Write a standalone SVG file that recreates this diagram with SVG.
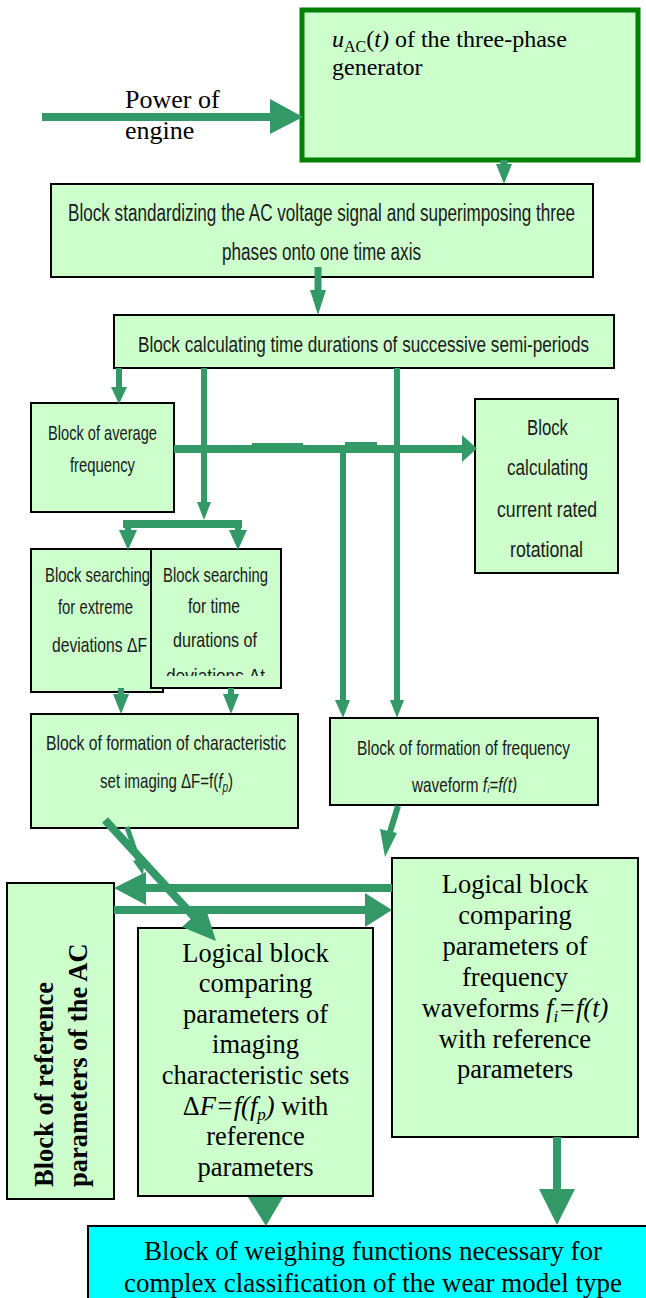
<svg xmlns="http://www.w3.org/2000/svg" width="646" height="1298" viewBox="0 0 646 1298">
<style>
.box{fill:#ccffcc;stroke:#000;stroke-width:2}
.cal{font-family:"Liberation Sans","DejaVu Sans",sans-serif;fill:#1a1a1a}
.tnr{font-family:"Liberation Serif","Times New Roman",serif;fill:#000}
.mid{text-anchor:middle}
.ln{stroke:#339966;fill:none}
.hd{fill:#339966}
</style>
<defs>
<clipPath id="clip7"><rect x="150" y="540" width="135" height="136"/></clipPath>
<clipPath id="clip9"><rect x="330" y="718" width="270" height="75"/></clipPath>
</defs>

<g id="node-generator">
<rect x="302" y="10" width="336" height="150" fill="#ccffcc" stroke="#008000" stroke-width="5"/>
<text class="tnr" x="332" y="47" font-size="24"><tspan font-style="italic">u</tspan><tspan font-size="16" dy="5">AC</tspan><tspan dy="-5">(</tspan><tspan font-style="italic">t)</tspan> of the three-phase</text>
<text class="tnr" x="332" y="75" font-size="24">generator</text>
</g>

<g id="label-power">
<text class="tnr" x="125" y="108" font-size="26">Power of</text>
<text class="tnr" x="125" y="139" font-size="26">engine</text>
</g>

<g id="node-standardizing">
<rect class="box" x="51" y="184" width="542" height="93"/>
<text class="cal" x="68" y="221" font-size="23" textLength="507" lengthAdjust="spacingAndGlyphs">Block standardizing the AC voltage signal and superimposing three</text>
<text class="cal" x="222" y="260" font-size="23" textLength="199" lengthAdjust="spacingAndGlyphs">phases onto one time axis</text>
</g>

<g id="node-semiperiods">
<rect class="box" x="114" y="315" width="500" height="53"/>
<text class="cal" x="138" y="352" font-size="22" textLength="451" lengthAdjust="spacingAndGlyphs">Block calculating time durations of successive semi-periods</text>
</g>

<g id="node-average">
<rect class="box" x="31" y="403" width="143" height="109"/>
<text class="cal" x="48" y="440" font-size="21" textLength="109" lengthAdjust="spacingAndGlyphs">Block of average</text>
<text class="cal" x="70" y="472" font-size="21" textLength="65" lengthAdjust="spacingAndGlyphs">frequency</text>
</g>

<g id="node-rotational">
<rect class="box" x="475" y="399" width="143" height="174"/>
<text class="cal" x="527" y="435" font-size="22" textLength="41" lengthAdjust="spacingAndGlyphs">Block</text>
<text class="cal" x="507" y="475" font-size="22" textLength="81" lengthAdjust="spacingAndGlyphs">calculating</text>
<text class="cal" x="497" y="517" font-size="22" textLength="100" lengthAdjust="spacingAndGlyphs">current rated</text>
<text class="cal" x="510" y="557" font-size="22" textLength="73" lengthAdjust="spacingAndGlyphs">rotational</text>
</g>

<g id="node-extreme">
<rect class="box" x="31" y="549" width="132" height="143"/>
<text class="cal" x="45" y="582" font-size="21" textLength="105" lengthAdjust="spacingAndGlyphs">Block searching</text>
<text class="cal" x="58" y="614" font-size="21" textLength="75" lengthAdjust="spacingAndGlyphs">for extreme</text>
<text class="cal" x="52" y="652" font-size="21" textLength="95" lengthAdjust="spacingAndGlyphs">deviations ΔF</text>
</g>

<g id="node-durations">
<rect class="box" x="151" y="549" width="130" height="139"/>
<text class="cal" x="163" y="582" font-size="21" textLength="105" lengthAdjust="spacingAndGlyphs">Block searching</text>
<text class="cal" x="188" y="613" font-size="21" textLength="52" lengthAdjust="spacingAndGlyphs">for time</text>
<text class="cal" x="173" y="647" font-size="21" textLength="84" lengthAdjust="spacingAndGlyphs">durations of</text>
<text class="cal" x="166" y="683" font-size="21" textLength="99" lengthAdjust="spacingAndGlyphs" clip-path="url(#clip7)">deviations Δt</text>
</g>

<g id="node-charset">
<rect class="box" x="31" y="714" width="267" height="114"/>
<text class="cal" x="46" y="750" font-size="21" textLength="240" lengthAdjust="spacingAndGlyphs">Block of formation of characteristic</text>
<text class="cal" x="100" y="788" font-size="21" textLength="133" lengthAdjust="spacingAndGlyphs">set imaging ΔF=f(<tspan font-style="italic">f</tspan><tspan font-size="14" dy="4" font-style="italic">p</tspan><tspan dy="-4">)</tspan></text>
</g>

<g id="node-waveform">
<rect class="box" x="330" y="718" width="268" height="87"/>
<text class="cal" x="357" y="755" font-size="21" textLength="213" lengthAdjust="spacingAndGlyphs">Block of formation of frequency</text>
<text class="cal" x="412" y="792" font-size="21" textLength="105" lengthAdjust="spacingAndGlyphs" clip-path="url(#clip9)">waveform  <tspan font-style="italic">f</tspan><tspan font-size="14" dy="4" font-style="italic">i</tspan><tspan dy="-4" font-style="italic">=f(t)</tspan></text>
</g>

<g id="node-reference">
<rect class="box" x="7" y="883" width="107" height="316"/>
<text class="tnr" font-size="26.5" font-weight="bold" transform="translate(53,1187) rotate(-90)">Block of reference</text>
<text class="tnr" font-size="26.5" font-weight="bold" transform="translate(87,1187) rotate(-90)">parameters of the AC</text>
</g>

<g id="node-logical-sets">
<rect class="box" x="138" y="928" width="235" height="268"/>
<text class="tnr mid" x="255.5" y="962" font-size="26.5">Logical block</text>
<text class="tnr mid" x="255.5" y="992" font-size="26.5">comparing</text>
<text class="tnr mid" x="255.5" y="1023" font-size="26.5">parameters of</text>
<text class="tnr mid" x="255.5" y="1053" font-size="26.5">imaging</text>
<text class="tnr mid" x="255.5" y="1084" font-size="26.5">characteristic sets</text>
<text class="tnr mid" x="255.5" y="1115" font-size="26.5">Δ<tspan font-style="italic">F=f(f</tspan><tspan font-style="italic" font-size="17" dy="5">p</tspan><tspan font-style="italic" dy="-5">)</tspan> with</text>
<text class="tnr mid" x="255.5" y="1145" font-size="26.5">reference</text>
<text class="tnr mid" x="255.5" y="1176" font-size="26.5">parameters</text>
</g>

<g id="node-logical-waveforms">
<rect class="box" x="392" y="858" width="246" height="279"/>
<text class="tnr mid" x="515" y="893" font-size="26.5">Logical block</text>
<text class="tnr mid" x="515" y="924" font-size="26.5">comparing</text>
<text class="tnr mid" x="515" y="955" font-size="26.5">parameters of</text>
<text class="tnr mid" x="515" y="986" font-size="26.5">frequency</text>
<text class="tnr mid" x="515" y="1017" font-size="26.5">waveforms <tspan font-style="italic">f</tspan><tspan font-style="italic" font-size="17" dy="5">i</tspan><tspan font-style="italic" dy="-5">=f(t)</tspan></text>
<text class="tnr mid" x="515" y="1048" font-size="26.5">with reference</text>
<text class="tnr mid" x="515" y="1078" font-size="26.5">parameters</text>
</g>

<g id="node-weighing">
<rect x="88" y="1226" width="570" height="90" fill="#00ffff" stroke="#000" stroke-width="2"/>
<text class="tnr mid" x="373" y="1260" font-size="27">Block of weighing functions necessary for</text>
<text class="tnr mid" x="373" y="1292" font-size="27">complex classification of the wear model type</text>
</g>

<g id="connectors">
<line class="ln" x1="42" y1="117" x2="272" y2="117" stroke-width="8"/>
<polygon class="hd" points="270,99 303,117 270,134"/>
<line class="ln" x1="504" y1="160" x2="504" y2="168" stroke-width="7"/>
<polygon class="hd" points="496,164 512,164 504,184"/>
<line class="ln" x1="318" y1="267" x2="318" y2="293" stroke-width="7"/>
<polygon class="hd" points="310,290 326,290 318,315"/>
<line class="ln" x1="119" y1="368" x2="119" y2="390" stroke-width="6"/>
<polygon class="hd" points="111,387 127,387 119,404"/>
<line class="ln" x1="204" y1="368" x2="204" y2="505" stroke-width="6"/>
<polygon class="hd" points="197,502 211,502 204,520"/>
<rect class="hd" x="123" y="520" width="119" height="8"/>
<line class="ln" x1="128" y1="524" x2="128" y2="533" stroke-width="6"/>
<polygon class="hd" points="119,530 137,530 128,550"/>
<line class="ln" x1="238" y1="524" x2="238" y2="533" stroke-width="6"/>
<polygon class="hd" points="229,530 247,530 238,550"/>
<line class="ln" x1="397" y1="368" x2="397" y2="703" stroke-width="6"/>
<polygon class="hd" points="390,700 404,700 397,718"/>
<rect class="hd" x="174" y="445" width="290" height="8"/>
<rect class="hd" x="252" y="443" width="51" height="4"/>
<rect class="hd" x="345" y="442" width="32" height="5"/>
<polygon class="hd" points="462,435 477,448.5 462,462"/>
<line class="ln" x1="343" y1="449" x2="343" y2="703" stroke-width="6"/>
<polygon class="hd" points="335,700 350,700 343,718"/>
<line class="ln" x1="121" y1="688" x2="121" y2="697" stroke-width="6"/>
<polygon class="hd" points="113,694 129,694 121,714"/>
<line class="ln" x1="231" y1="688" x2="231" y2="697" stroke-width="6"/>
<polygon class="hd" points="223,694 239,694 231,714"/>
<line class="ln" x1="398" y1="806" x2="390" y2="832" stroke-width="6"/>
<polygon class="hd" points="380,829 397,833 385,857"/>
<line class="ln" x1="105" y1="820" x2="196" y2="919" stroke-width="8"/>
<polygon class="hd" points="182,927 205,906 216,941"/>
<line class="ln" x1="127" y1="827" x2="139" y2="862" stroke-width="5"/>
<polygon class="hd" points="133,861 145,857 143,875"/>
<line class="ln" x1="392" y1="888" x2="144" y2="888" stroke-width="8"/>
<polygon class="hd" points="146,872 114,888 146,905"/>
<line class="ln" x1="114" y1="910" x2="367" y2="910" stroke-width="8"/>
<polygon class="hd" points="365,893 392,910 365,927"/>
<polygon class="hd" points="248,1197 283,1197 266,1226"/>
<line class="ln" x1="557" y1="1137" x2="557" y2="1191" stroke-width="8"/>
<polygon class="hd" points="539,1189 575,1189 557,1225"/>
</g>
</svg>
